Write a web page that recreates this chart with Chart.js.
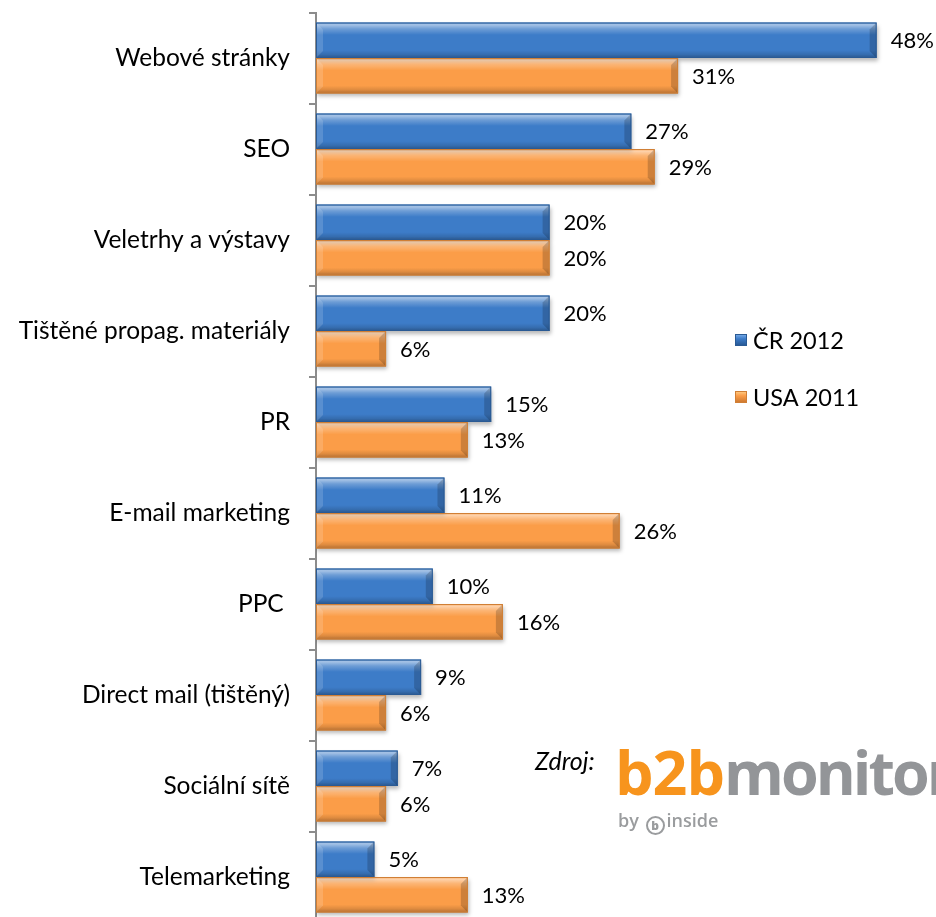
<!DOCTYPE html>
<html>
<head>
<meta charset="utf-8">
<script src="https://cdn.jsdelivr.net/npm/chart.js@4/dist/chart.umd.min.js"></script>
<style>
  html,body{margin:0;padding:0;background:#fff;overflow:hidden;}
  #wrap{position:relative;width:936px;height:917px;overflow:hidden;background:#fff;}
  #c{display:block;position:absolute;left:0;top:0;}
  .zdroj{position:absolute;left:535px;top:745px;font-family:Lato,sans-serif;font-style:italic;font-size:25px;color:#000;}
  .logo{position:absolute;left:615px;top:737px;font-family:"Open Sans",sans-serif;font-weight:700;font-size:61px;letter-spacing:-1px;line-height:70px;white-space:nowrap;}
  .logo .b{color:#f7941d;} .logo .m{color:#939598;letter-spacing:-3px;}
  .by{position:absolute;left:618px;top:808px;font-family:"Open Sans",sans-serif;font-weight:600;font-size:18px;color:#9a9c9e;white-space:nowrap;}
  .by .ic{display:inline-block;width:15px;height:15px;border:2.5px solid #9a9c9e;border-radius:50%;font-size:12px;line-height:15px;text-align:center;vertical-align:-3px;margin:0 2px;box-sizing:content-box;font-weight:800;}
</style>
</head>
<body>
<div id="wrap">
<canvas id="c" width="936" height="925"></canvas>
<div class="zdroj">Zdroj:</div>
<div class="logo"><span class="b">b2b</span><span class="m">monitor</span></div>
<div class="by">by <span class="ic">b</span>inside</div>
</div>
<script>
const categories = ["Webové stránky","SEO","Veletrhy a výstavy","Tištěné propag. materiály","PR","E-mail marketing","PPC ","Direct mail (tištěný)","Sociální sítě","Telemarketing"];
const seriesNames = ["ČR 2012","USA 2011"];
const cr2012 = [48,27,20,20,15,11,10,9,7,5];
const usa2011 = [31,29,20,6,13,26,16,6,6,13];

const FONT = "Lato, 'Open Sans', sans-serif";
const colors = [
  {fill:"#3d7cc8", light:"#7fb1ec", dark:"#24548f", border:"#2a5a94"},
  {fill:"#fb9d48", light:"#ffd08a", dark:"#c8742c", border:"#d07f35"}
];

const bevelPlugin = {
  id:"bevel",
  beforeDatasetsDraw(chart){
    const c = chart.ctx;
    c.save();
    c.shadowColor = "rgba(0,0,0,0.28)";
    c.shadowOffsetY = 3; c.shadowOffsetX = 1; c.shadowBlur = 4;
  },
  afterDatasetsDraw(chart){
    const c = chart.ctx;
    c.restore();
    chart.data.datasets.forEach((ds,di)=>{
      const meta = chart.getDatasetMeta(di);
      const col = colors[di];
      meta.data.forEach(el=>{
        const p = el.getProps(["x","y","base","height"],true);
        const x0 = Math.min(p.base,p.x), x1 = Math.max(p.base,p.x);
        const y0 = p.y - p.height/2, y1 = p.y + p.height/2;
        const h = y1-y0;
        const g = c.createLinearGradient(0,y0,0,y1);
        g.addColorStop(0,"rgba(255,255,255,0.10)");
        g.addColorStop(0.06,"rgba(255,255,255,0.55)");
        g.addColorStop(0.18,"rgba(255,255,255,0.25)");
        g.addColorStop(0.35,"rgba(255,255,255,0.0)");
        g.addColorStop(0.78,"rgba(0,0,0,0.0)");
        g.addColorStop(0.9,"rgba(0,0,0,0.12)");
        g.addColorStop(1,"rgba(0,0,0,0.30)");
        c.save();
        c.fillStyle = g;
        c.fillRect(x0,y0,x1-x0,h);
        const bev = Math.min(7,h*0.2);
        c.fillStyle = "rgba(0,0,0,0.18)";
        c.beginPath(); c.moveTo(x1,y0); c.lineTo(x1,y1); c.lineTo(x1-bev,y1-bev); c.lineTo(x1-bev,y0+bev); c.closePath(); c.fill();
        c.fillStyle = "rgba(255,255,255,0.15)";
        c.beginPath(); c.moveTo(x0,y0); c.lineTo(x0+bev,y0+bev); c.lineTo(x0+bev,y1-bev); c.lineTo(x0,y1); c.closePath(); c.fill();
        c.strokeStyle = col.border; c.lineWidth = 1;
        c.strokeRect(x0+0.5,y0+0.5,x1-x0-1,h-1);
        c.restore();
      });
    });
    c.save();
    c.font = "22px " + FONT;
    c.fillStyle = "#000";
    c.textAlign = "left"; c.textBaseline = "middle";
    chart.data.datasets.forEach((ds,di)=>{
      const meta = chart.getDatasetMeta(di);
      meta.data.forEach((el,i)=>{
        const p = el.getProps(["x","y"],true);
        c.fillText(ds.data[i] + "%", p.x + 14, p.y + 1);
      });
    });
    c.restore();
    c.save();
    c.font = "23.5px " + FONT;
    c.textBaseline = "middle";
    const ly = [340, 397];
    chart.data.datasets.forEach((ds,di)=>{
      const col = colors[di];
      const sx = 735, sy = ly[di]-6, s = 12;
      const g = c.createLinearGradient(0,sy,0,sy+s);
      g.addColorStop(0,col.light); g.addColorStop(0.4,col.fill); g.addColorStop(1,col.dark);
      c.fillStyle = g; c.fillRect(sx,sy,s,s);
      c.strokeStyle = col.border; c.lineWidth=1; c.strokeRect(sx+0.5,sy+0.5,s-1,s-1);
      c.fillStyle = "#000";
      c.fillText(ds.label, 753, ly[di]+1);
    });
    c.restore();
  }
};

new Chart(document.getElementById("c"), {
  type:"bar",
  data:{
    labels:categories,
    datasets:[
      {label:seriesNames[0], data:cr2012, backgroundColor:colors[0].fill, borderWidth:0},
      {label:seriesNames[1], data:usa2011, backgroundColor:colors[1].fill, borderWidth:0}
    ]
  },
  options:{
    indexAxis:"y",
    responsive:false,
    devicePixelRatio:1,
    animation:false,
    datasets:{bar:{barPercentage:1, categoryPercentage:0.78}},
    layout:{padding:{top:12.5,right:36,bottom:2.5,left:0}},
    plugins:{legend:{display:false}, tooltip:{enabled:false}},
    scales:{
      x:{display:false, min:0, max:50},
      y:{
        afterFit(scale){ scale.width = 316; scale.paddingTop = 0; scale.paddingBottom = 0; },
        border:{display:true,color:"#8c8c8c",width:2},
        grid:{display:true,drawOnChartArea:false,drawTicks:true,tickLength:7,color:"#8c8c8c",lineWidth:2,offset:true},
        ticks:{color:"#000",padding:19,font:{family:FONT,size:24.5}}
      }
    }
  },
  plugins:[bevelPlugin]
});
</script>
</body>
</html>
